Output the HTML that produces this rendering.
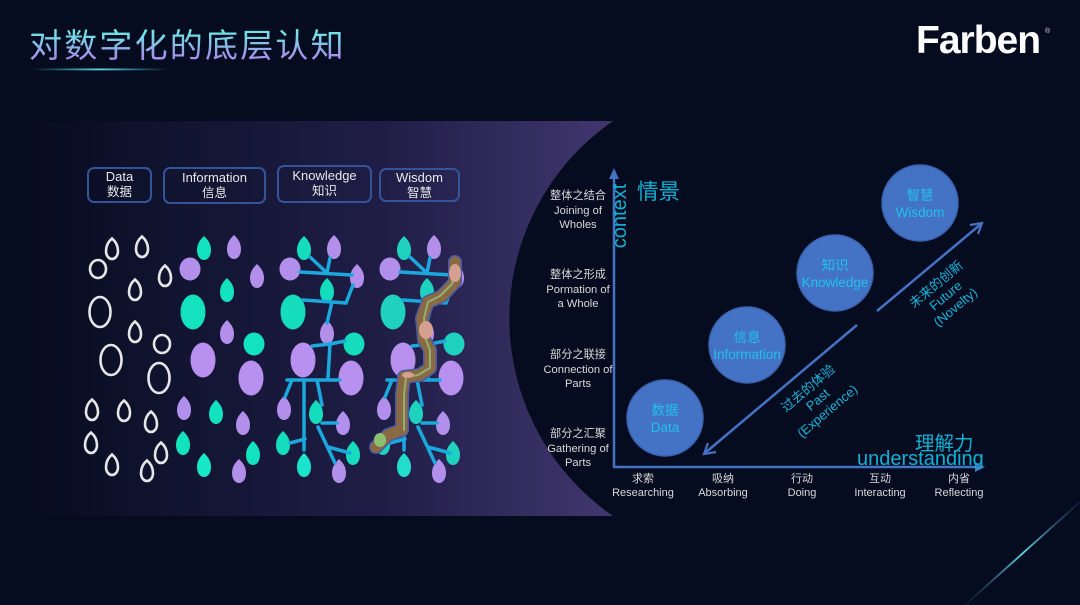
<!DOCTYPE html>
<html><head><meta charset="utf-8"><style>
html,body{margin:0;padding:0;background:#050c1f;}
svg{display:block;}
text{font-family:"Liberation Sans","Noto Sans CJK SC",sans-serif;}
</style></head><body>
<svg width="1080" height="605" viewBox="0 0 1080 605" xmlns="http://www.w3.org/2000/svg">
<defs>
<linearGradient id="panel" x1="30" y1="0" x2="613" y2="0" gradientUnits="userSpaceOnUse">
<stop offset="0" stop-color="#060c20"/>
<stop offset="0.25" stop-color="#111430"/>
<stop offset="0.6" stop-color="#1f1d46"/>
<stop offset="1" stop-color="#41376f"/>
</linearGradient>
<linearGradient id="tg" x1="0" y1="32" x2="0" y2="58" gradientUnits="userSpaceOnUse">
<stop offset="0" stop-color="#6ee6e6"/>
<stop offset="1" stop-color="#a48fea"/>
</linearGradient>
<linearGradient id="ul" x1="32" y1="0" x2="168" y2="0" gradientUnits="userSpaceOnUse">
<stop offset="0" stop-color="#4fd0e0" stop-opacity="0"/>
<stop offset="0.5" stop-color="#5fdbe6" stop-opacity="1"/>
<stop offset="1" stop-color="#4fd0e0" stop-opacity="0"/>
</linearGradient>
<linearGradient id="streak" x1="1080" y1="502" x2="965" y2="605" gradientUnits="userSpaceOnUse">
<stop offset="0" stop-color="#3a4a8a" stop-opacity="0.2"/>
<stop offset="0.5" stop-color="#5fe0e8" stop-opacity="1"/>
<stop offset="1" stop-color="#3a4a8a" stop-opacity="0.1"/>
</linearGradient>
<path id="s" d="M0,-12 C3,-9 7,-5 7,2 C7,8 4,12 0,12 C-4,12 -7,8 -7,2 C-7,-5 -3,-9 0,-12Z"/>
<ellipse id="m" rx="10.5" ry="11.5"/>
<ellipse id="L" rx="12.5" ry="17.5"/>
<path id="ds" d="M0,-10.5 C3,-8 6,-4 6,2 C6,7 3,10 0,10 C-3,10 -6,7 -6,2 C-6,-4 -3,-8 0,-10.5Z"/>
<ellipse id="dm" rx="8" ry="9"/>
<ellipse id="dL" rx="10.5" ry="15"/>
</defs>

<rect width="1080" height="605" fill="#050c1f"/>

<!-- title -->
<text x="29" y="57" font-size="33" letter-spacing="2.2" fill="url(#tg)">对数字化的底层认知</text>
<rect x="32" y="68.5" width="136" height="1.8" fill="url(#ul)"/>

<!-- logo -->
<text x="916" y="53" font-size="39" font-weight="bold" letter-spacing="-1" fill="#ffffff">Farben</text>
<text x="1045" y="33" font-size="7" fill="#dddddd">®</text>

<!-- streak -->
<line x1="1080" y1="502" x2="965" y2="605" stroke="url(#streak)" stroke-width="1.8"/>

<!-- panel -->
<path d="M30,121 L613,121 A240,240 0 0,0 613,516 L30,516 Z" fill="url(#panel)"/>

<!-- boxes -->
<g fill="none" stroke="#34549a" stroke-width="2">
<rect x="88" y="168" width="63" height="34" rx="6"/>
<rect x="164" y="168" width="101" height="35" rx="6"/>
<rect x="278" y="166" width="93" height="36" rx="6"/>
<rect x="380" y="169" width="79" height="32" rx="6"/>
</g>
<g fill="#e8e8e8" font-size="13" text-anchor="middle">
<text x="119.5" y="181">Data</text><text x="119.5" y="196" font-size="12.5">数据</text>
<text x="214.5" y="182">Information</text><text x="214.5" y="197" font-size="12.5">信息</text>
<text x="324.5" y="180">Knowledge</text><text x="324.5" y="195" font-size="12.5">知识</text>
<text x="419.5" y="182">Wisdom</text><text x="419.5" y="197" font-size="12.5">智慧</text>
</g>

<!-- data column -->
<g fill="none" stroke="#e6e6e6" stroke-width="2.6">
<use href="#ds" x="112" y="249"/><use href="#ds" x="142" y="247"/><use href="#dm" x="98" y="269"/>
<use href="#ds" x="165" y="276"/><use href="#ds" x="135" y="290"/><use href="#dL" x="100" y="312"/>
<use href="#ds" x="135" y="332"/><use href="#dm" x="162" y="344"/><use href="#dL" x="111" y="360"/>
<use href="#dL" x="159" y="378"/><use href="#ds" x="92" y="410"/><use href="#ds" x="124" y="411"/>
<use href="#ds" x="151" y="422"/><use href="#ds" x="91" y="443"/><use href="#ds" x="161" y="453"/>
<use href="#ds" x="112" y="465"/><use href="#ds" x="147" y="471"/>
</g>

<!-- info column -->
<g>
<use href="#s" x="204" y="248" fill="#12e2bd"/><use href="#s" x="234" y="247" fill="#b38fec"/>
<use href="#m" x="190" y="269" fill="#b38fec"/><use href="#s" x="257" y="276" fill="#b38fec"/>
<use href="#s" x="227" y="290" fill="#12e2bd"/><use href="#L" x="193" y="312" fill="#12e2bd"/>
<use href="#s" x="227" y="332" fill="#b38fec"/><use href="#m" x="254" y="344" fill="#12e2bd"/>
<use href="#L" x="203" y="360" fill="#b890f0"/><use href="#L" x="251" y="378" fill="#b890f0"/>
<use href="#s" x="184" y="408" fill="#b38fec"/><use href="#s" x="216" y="412" fill="#12e2bd"/>
<use href="#s" x="243" y="423" fill="#b38fec"/><use href="#s" x="183" y="443" fill="#12e2bd"/>
<use href="#s" x="253" y="453" fill="#12e2bd"/><use href="#s" x="204" y="465" fill="#18e8c8"/>
<use href="#s" x="239" y="471" fill="#b38fec"/>
</g>

<!-- knowledge column -->
<g>
<use href="#s" x="304" y="248" fill="#14dcbc"/><use href="#s" x="334" y="247" fill="#b38fec"/>
<use href="#m" x="290" y="269" fill="#b38fec"/><use href="#s" x="357" y="276" fill="#b38fec"/>
<use href="#s" x="327" y="290" fill="#14dcbc"/><use href="#L" x="293" y="312" fill="#14dcbc"/>
<use href="#s" x="327" y="332" fill="#b38fec"/><use href="#m" x="354" y="344" fill="#14dcbc"/>
<use href="#L" x="303" y="360" fill="#b890f0"/><use href="#L" x="351" y="378" fill="#b890f0"/>
<use href="#s" x="284" y="408" fill="#b38fec"/><use href="#s" x="316" y="412" fill="#14dcbc"/>
<use href="#s" x="343" y="423" fill="#b38fec"/><use href="#s" x="283" y="443" fill="#14dcbc"/>
<use href="#s" x="353" y="453" fill="#14dcbc"/><use href="#s" x="304" y="465" fill="#1ae4cc"/>
<use href="#s" x="339" y="471" fill="#b38fec"/>
</g>
<g stroke="#1ba8dc" stroke-width="3.5" stroke-linecap="round" fill="none">
<line x1="310" y1="257" x2="327" y2="273"/><line x1="330" y1="258" x2="327" y2="273"/>
<line x1="300" y1="272" x2="352" y2="275"/><line x1="353" y1="285" x2="346" y2="303"/>
<line x1="303" y1="300" x2="346" y2="303"/><line x1="332" y1="302" x2="327" y2="323"/>
<line x1="312" y1="346" x2="330" y2="344"/><line x1="330" y1="344" x2="345" y2="341"/>
<line x1="330" y1="344" x2="328" y2="378"/><line x1="287" y1="380" x2="340" y2="380"/>
<line x1="292" y1="380" x2="285" y2="397"/><line x1="304" y1="380" x2="304" y2="450"/>
<line x1="317" y1="380" x2="322" y2="405"/><line x1="322" y1="423" x2="337" y2="423"/>
<line x1="290" y1="443" x2="305" y2="439"/><line x1="318" y1="427" x2="335" y2="463"/>
<line x1="328" y1="447" x2="350" y2="453"/>
</g>

<!-- wisdom column -->
<g>
<use href="#s" x="404" y="248" fill="#1fd2c0"/><use href="#s" x="434" y="247" fill="#b38fec"/>
<use href="#m" x="390" y="269" fill="#b38fec"/><use href="#s" x="457" y="276" fill="#b38fec"/>
<use href="#s" x="427" y="290" fill="#1fd2c0"/><use href="#L" x="393" y="312" fill="#1fd2c0"/>
<use href="#s" x="427" y="332" fill="#b38fec"/><use href="#m" x="454" y="344" fill="#1fd2c0"/>
<use href="#L" x="403" y="360" fill="#b890f0"/><use href="#L" x="451" y="378" fill="#b890f0"/>
<use href="#s" x="384" y="408" fill="#b38fec"/><use href="#s" x="416" y="412" fill="#1fd2c0"/>
<use href="#s" x="443" y="423" fill="#b38fec"/><use href="#s" x="383" y="443" fill="#1fd2c0"/>
<use href="#s" x="453" y="453" fill="#1fd2c0"/><use href="#s" x="404" y="465" fill="#22dccc"/>
<use href="#s" x="439" y="471" fill="#b38fec"/>
</g>
<g stroke="#1ba8dc" stroke-width="3.5" stroke-linecap="round" fill="none">
<line x1="410" y1="257" x2="427" y2="273"/><line x1="430" y1="258" x2="427" y2="273"/>
<line x1="400" y1="272" x2="452" y2="275"/><line x1="453" y1="285" x2="446" y2="303"/>
<line x1="403" y1="300" x2="446" y2="303"/><line x1="432" y1="302" x2="427" y2="323"/>
<line x1="412" y1="346" x2="430" y2="344"/><line x1="430" y1="344" x2="445" y2="341"/>
<line x1="430" y1="344" x2="428" y2="378"/><line x1="387" y1="380" x2="440" y2="380"/>
<line x1="392" y1="380" x2="385" y2="397"/><line x1="404" y1="380" x2="404" y2="450"/>
<line x1="417" y1="380" x2="422" y2="405"/><line x1="422" y1="423" x2="437" y2="423"/>
<line x1="390" y1="443" x2="405" y2="439"/><line x1="418" y1="427" x2="435" y2="463"/>
<line x1="428" y1="447" x2="450" y2="453"/>
</g>
<!-- brown path -->
<g fill="none" stroke-linejoin="round" stroke-linecap="round">
<polyline points="455,262 455,282 442,296 428,302 422,318 424,340 430,350 430,368 420,375 404,377 402,395 402,430 388,435 376,447" stroke="#4a5aa6" stroke-width="14"/>
<polyline points="455,262 455,282 442,296 428,302 422,318 424,340 430,350 430,368 420,375 404,377 402,395 402,430 388,435 376,447" stroke="#8a6a42" stroke-width="11"/>
<polyline points="455,268 452,284 440,296 428,302 424,318 426,340 430,350 430,368 418,375 406,377 404,395 404,430" stroke="#8fb072" stroke-width="2"/>
</g>
<ellipse cx="455" cy="273" rx="6" ry="9" fill="#d6a090"/>
<ellipse cx="426" cy="330" rx="7" ry="9" fill="#d6a090"/>
<ellipse cx="408" cy="375" rx="6" ry="3" fill="#d6a090"/>
<ellipse cx="380" cy="440" rx="6" ry="7" fill="#8cc070"/>

<!-- chart axes -->
<g stroke="#4472c4" stroke-width="2.5" fill="none">
<line x1="614" y1="467" x2="614" y2="176"/>
<line x1="613" y1="467" x2="977" y2="467"/>
<line x1="857" y1="325" x2="705" y2="453"/>
<polyline points="716,452 704,454 708,443" stroke-width="2.2"/>
<line x1="877" y1="311" x2="981" y2="224"/>
<polyline points="970,225 982,223 978,234" stroke-width="2.2"/>
</g>
<polygon points="614,168 609,179 619,179" fill="#4472c4"/>
<polygon points="985,467 975,462 975,472" fill="#4472c4"/>

<!-- axis titles -->
<text transform="translate(626,216) rotate(-90)" font-size="20" fill="#10b0d4" text-anchor="middle">context</text>
<text x="637" y="199" font-size="21.5" fill="#10b0d4">情景</text>
<text x="915" y="450" font-size="19.5" fill="#10b0d4">理解力</text>
<text x="857" y="465" font-size="20" fill="#10b0d4">understanding</text>

<!-- y labels -->
<g font-size="11.2" fill="#d8d8d8" text-anchor="middle">
<text x="578" y="199">整体之结合</text><text x="578" y="214">Joining of</text><text x="578" y="228">Wholes</text>
<text x="578" y="278">整体之形成</text><text x="578" y="293">Pormation of</text><text x="578" y="307">a Whole</text>
<text x="578" y="358">部分之联接</text><text x="578" y="373">Connection of</text><text x="578" y="387">Parts</text>
<text x="578" y="437">部分之汇聚</text><text x="578" y="452">Gathering of</text><text x="578" y="466">Parts</text>
</g>
<!-- x labels -->
<g font-size="11" fill="#d8d8d8" text-anchor="middle">
<text x="643" y="482">求索</text><text x="643" y="496">Researching</text>
<text x="723" y="482">吸纳</text><text x="723" y="496">Absorbing</text>
<text x="802" y="482">行动</text><text x="802" y="496">Doing</text>
<text x="880" y="482">互动</text><text x="880" y="496">Interacting</text>
<text x="959" y="482">内省</text><text x="959" y="496">Reflecting</text>
</g>

<!-- circles -->
<g fill="#4472c4" stroke="#3a62ae" stroke-width="1.5">
<circle cx="665" cy="418" r="38"/>
<circle cx="747" cy="345" r="38"/>
<circle cx="835" cy="273" r="38"/>
<circle cx="920" cy="203" r="38"/>
</g>
<g fill="#22c2e8" font-size="13.5" text-anchor="middle">
<text x="665" y="415">数据</text><text x="665" y="432">Data</text>
<text x="747" y="342">信息</text><text x="747" y="359">Information</text>
<text x="835" y="270">知识</text><text x="835" y="287">Knowledge</text>
<text x="920" y="200">智慧</text><text x="920" y="217">Wisdom</text>
</g>

<!-- rotated labels -->
<g fill="#14b4dc" font-size="13" text-anchor="middle">
<g transform="translate(818,400) rotate(-40)">
<text x="0" y="-11">过去的体验</text><text x="0" y="4">Past</text><text x="0" y="19">(Experience)</text>
</g>
<g transform="translate(946,296) rotate(-40)">
<text x="0" y="-11">未来的创新</text><text x="0" y="4">Future</text><text x="0" y="19">(Novelty)</text>
</g>
</g>
</svg>
</body></html>
